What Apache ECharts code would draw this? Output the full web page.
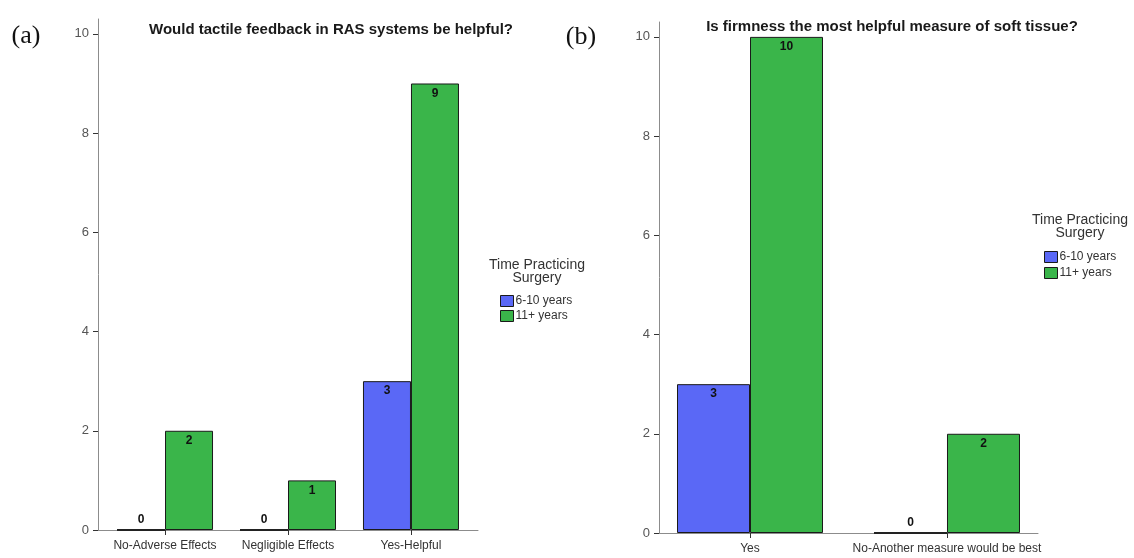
<!DOCTYPE html>
<html>
<head>
<meta charset="utf-8">
<script src="https://cdn.jsdelivr.net/npm/echarts@6/dist/echarts.min.js"></script>
<style>
  html, body { margin: 0; padding: 0; background: #fff; }
  #chart { width: 1134px; height: 558px; }
</style>
</head>
<body>
<div id="chart"></div>
<script>
// Panel (a): would tactile feedback in RAS systems be helpful?
const catsA = ['No-Adverse Effects', 'Negligible Effects', 'Yes-Helpful'];
const a6to10 = [0, 0, 3];
const a11plus = [2, 1, 9];

// Panel (b): is firmness the most helpful measure of soft tissue?
const catsB = ['Yes', 'No-Another measure would be best'];
const b6to10 = [3, 0];
const b11plus = [10, 2];

const groupNames = ['6-10 years', '11+ years'];
const groupColors = ['#5a68f6', '#3ab54a'];
const yTicks = [0, 2, 4, 6, 8, 10];
const yMax = 10.3;

const font = 'Liberation Sans, Arial, sans-serif';

// Each group sits at an integer slot on the x scale; the padding on either
// side of the outer groups is a fraction of one slot.
function slotAxisRange(count, pad) {
  return { min: -pad, max: count - 1 + pad };
}

function seriesData(values) {
  // zero counts sit flat on the axis: a heavier stroke, value printed above
  return values.map((v, i) => v === 0
    ? { value: [i, v], label: { position: 'top', distance: 3 }, itemStyle: { borderWidth: 2, borderColor: '#222' } }
    : { value: [i, v] });
}

function barSeries(name, values, color, axisIdx, width) {
  return {
    type: 'bar',
    name: name,
    xAxisIndex: axisIdx,
    yAxisIndex: axisIdx,
    data: seriesData(values),
    barWidth: width,
    barGap: '0%',
    itemStyle: { color: color, borderColor: '#1a1a1a', borderWidth: 1 },
    label: {
      show: true, position: 'insideTop', distance: 4,
      color: '#111', fontFamily: font, fontWeight: 'bold', fontSize: 12,
      formatter: p => String(p.value[1])
    },
    emphasis: { disabled: true },
    animation: false
  };
}

function catAxis(idx, cats, pad) {
  const slots = cats.map((c, i) => i);
  const range = slotAxisRange(cats.length, pad);
  return {
    type: 'value', gridIndex: idx, min: range.min, max: range.max,
    splitLine: { show: false },
    axisLine: { show: true, lineStyle: { color: '#8c8c8c', width: 1 } },
    axisTick: { show: true, length: 5, customValues: slots, lineStyle: { color: '#333' } },
    axisLabel: { color: '#333', fontFamily: font, fontSize: 12, margin: 10,
      customValues: slots, formatter: v => cats[Math.round(v)] }
  };
}

function valAxis(idx) {
  return {
    type: 'value', gridIndex: idx, min: 0, max: yMax, interval: 2,
    splitLine: { show: false },
    axisLine: { show: true, onZero: false, lineStyle: { color: '#8c8c8c', width: 1 } },
    axisTick: { show: true, length: 5, customValues: yTicks, lineStyle: { color: '#333' } },
    axisLabel: { color: '#555', fontFamily: font, fontSize: 13, margin: 9, customValues: yTicks }
  };
}

function legendBlock(left, top, gap) {
  return {
    left: left, top: top, orient: 'vertical',
    data: groupNames, icon: 'rect',
    itemWidth: 13, itemHeight: 11, itemGap: gap,
    itemStyle: { borderColor: '#1a1a1a', borderWidth: 1 },
    textStyle: { color: '#333', fontFamily: font, fontSize: 12, padding: [0, 0, 0, -3] },
    selectedMode: false, padding: 0
  };
}

function text(x, y, str, size, weight, family, color) {
  return {
    type: 'text', x: x, y: y,
    style: { text: str, fontSize: size, fontWeight: weight, fontFamily: family,
      fill: color, align: 'center', verticalAlign: 'middle' }
  };
}

const chart = echarts.init(document.getElementById('chart'), null, { renderer: 'canvas' });
chart.setOption({
  backgroundColor: '#fff',
  animation: false,
  grid: [
    { left: 98, top: 19, width: 380, height: 511 },
    { left: 659, top: 22, width: 379, height: 511 }
  ],
  xAxis: [catAxis(0, catsA, 0.545), catAxis(1, catsB, 0.462)],
  yAxis: [valAxis(0), valAxis(1)],
  legend: [legendBlock(500, 295, 3), legendBlock(1044, 251, 4)],
  series: [
    barSeries(groupNames[0], a6to10, groupColors[0], 0, 48),
    barSeries(groupNames[1], a11plus, groupColors[1], 0, 48),
    barSeries(groupNames[0], b6to10, groupColors[0], 1, 73),
    barSeries(groupNames[1], b11plus, groupColors[1], 1, 73)
  ],
  graphic: [
    text(26, 36, '(a)', 26, 'normal', 'Liberation Serif, Times New Roman, serif', '#111'),
    text(331, 30, 'Would tactile feedback in RAS systems be helpful?', 15, 'bold', font, '#1a1a1a'),
    text(537, 265, 'Time Practicing', 14, 'normal', font, '#333'),
    text(537, 278, 'Surgery', 14, 'normal', font, '#333'),
    text(581, 37, '(b)', 26, 'normal', 'Liberation Serif, Times New Roman, serif', '#111'),
    text(892, 27, 'Is firmness the most helpful measure of soft tissue?', 15, 'bold', font, '#1a1a1a'),
    text(1080, 220, 'Time Practicing', 14, 'normal', font, '#333'),
    text(1080, 233, 'Surgery', 14, 'normal', font, '#333')
  ]
});
</script>
</body>
</html>
